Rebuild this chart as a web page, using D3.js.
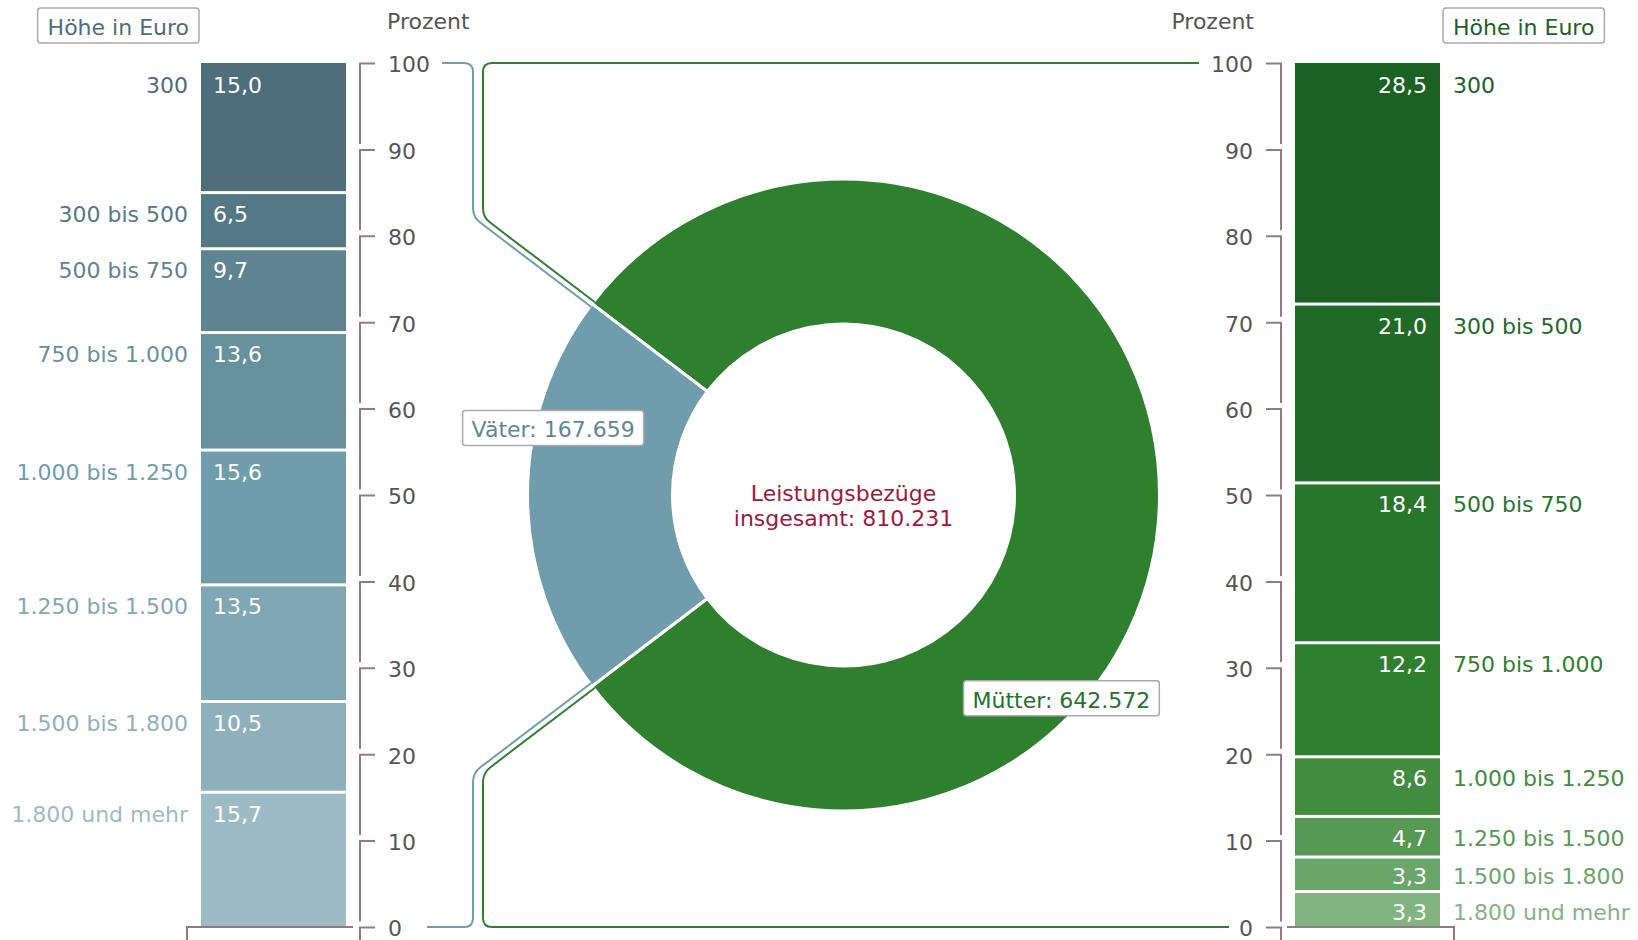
<!DOCTYPE html>
<html lang="de">
<head>
<meta charset="utf-8">
<title>Elterngeld nach Höhe</title>
<script src="https://d3js.org/d3.v7.min.js"></script>
<style type="text/css">
body { margin: 0; background: #fff; }
svg  { font-family: "DejaVu Sans", Verdana, sans-serif; font-size: 22px; }
</style>
</head>
<body>
<script type="text/javascript">

// categories (Höhe in Euro) and shares in percent
var categories = ["300", "300 bis 500", "500 bis 750", "750 bis 1.000",
                  "1.000 bis 1.250", "1.250 bis 1.500", "1.500 bis 1.800", "1.800 und mehr"];
var vaeterShares  = [15.0, 6.5, 9.7, 13.6, 15.6, 13.5, 10.5, 15.7];
var muetterShares = [28.5, 21.0, 18.4, 12.2, 8.6, 4.7, 3.3, 3.3];
// the reference draws the Mütter bar with heights that differ a bit from its printed values
var muetterBarHeights = [27.9, 20.7, 18.5, 13.2, 6.9, 4.7, 4.0, 4.1];

// recipients
var recipients      = ["Mütter", "Väter"];
var recipientCounts = [642572, 167659];

var percentTicks = [0, 10, 20, 30, 40, 50, 60, 70, 80, 90, 100];

// colours
var blues  = ["#4d6e7a", "#537986", "#5e8491", "#68919e", "#6f9dac", "#7fa7b4", "#8eb0bc", "#9dbbc5"];
var greens = ["#1c6124", "#1f6a27", "#26762c", "#2e802e", "#428c40", "#569954", "#6aa66a", "#82b482"];
var axisColor = "#967a7f";
var textGrey = "#555";

var de = d3.formatLocale({decimal: ",", thousands: ".", grouping: [3], currency: ["", " €"]});
var fmtShare = de.format(".1f");
var fmtCount = de.format(",");

var svg = d3.select("body").append("svg")
    .attr("width", 1638)
    .attr("height", 940);

var y = d3.scaleLinear().domain([0, 100]).range([927, 63]);

// ---------- stacked bars ----------
function stack(values, heights) {
  var top = 100;
  return values.map(function(v, i) {
    var s = {i: i, value: v, top: top, bottom: top - heights[i], name: categories[i]};
    top -= heights[i];
    return s;
  });
}

function drawBar(values, heights, colors, barX, side) {
  var segs = stack(values, heights);
  var n = segs.length;
  var g = svg.append("g");

  g.selectAll("rect")
    .data(segs)
    .enter()
    .append("rect")
    .attr("x", barX)
    .attr("width", 145)
    .attr("y", function(d) { return y(d.top) + (d.i > 0 ? 1.5 : 0); })
    .attr("height", function(d) {
      return y(d.bottom) - y(d.top) - (d.i > 0 ? 1.5 : 0) - (d.i < n - 1 ? 1.5 : 0);
    })
    .attr("fill", function(d) { return colors[d.i]; });

  function labelY(d) { return Math.min(y(d.top) + 29.5, y(d.bottom) - 7.5); }

  // value inside the bar
  g.selectAll(".val")
    .data(segs)
    .enter()
    .append("text")
    .attr("class", "val")
    .attr("x", side === "left" ? barX + 12 : barX + 132)
    .attr("y", labelY)
    .attr("text-anchor", side === "left" ? "start" : "end")
    .attr("fill", "#fff")
    .text(function(d) { return fmtShare(d.value); });

  // category name beside the bar
  g.selectAll(".cat")
    .data(segs)
    .enter()
    .append("text")
    .attr("class", "cat")
    .attr("x", side === "left" ? barX - 13 : barX + 158)
    .attr("y", labelY)
    .attr("text-anchor", side === "left" ? "end" : "start")
    .attr("fill", function(d) { return colors[d.i]; })
    .text(function(d) { return d.name; });
}

drawBar(vaeterShares, vaeterShares, blues, 201, "left");
drawBar(muetterShares, muetterBarHeights, greens, 1295, "right");

// ---------- bracket axes ----------
function drawAxis(axisX, orient) {
  var dir = orient === "right" ? 1 : -1;
  var axis = (orient === "right" ? d3.axisRight(y) : d3.axisLeft(y))
      .tickValues(percentTicks)
      .tickSize(15)
      .tickPadding(13)
      .tickFormat(d3.format("d"));
  var g = svg.append("g")
      .attr("transform", "translate(" + axisX + ",0)")
      .call(axis);
  g.attr("font-size", 22).attr("font-family", null);
  g.select(".domain").remove();
  g.selectAll(".tick line").remove();
  g.selectAll(".tick text").attr("fill", textGrey).attr("dy", "0.4em");
  g.selectAll(".tick").append("path")
    .attr("fill", "none")
    .attr("stroke", axisColor)
    .attr("stroke-width", 2)
    .attr("d", function(v) {
      var len = v > 0 ? y(v - 10) - y(v) - 6 : 20;
      return "M" + (dir * 15) + ",0H0V" + len;
    });
  return g;
}
drawAxis(360, "right");
drawAxis(1281, "left");

// category brackets under the bars
svg.append("path")
  .attr("fill", "none").attr("stroke", axisColor).attr("stroke-width", 2)
  .attr("d", "M187,945V" + y(0) + "H353");
svg.append("path")
  .attr("fill", "none").attr("stroke", axisColor).attr("stroke-width", 2)
  .attr("d", "M1287," + y(0) + "H1454V945");

// axis titles
svg.append("text").attr("x", 387).attr("y", 29).attr("fill", textGrey).text("Prozent");
svg.append("text").attr("x", 1254).attr("y", 29).attr("fill", textGrey)
  .attr("text-anchor", "end").text("Prozent");

// "Höhe in Euro" boxes
function boxLabel(x, yTop, anchor, txt, color) {
  var g = svg.append("g");
  var rect = g.append("rect");
  var t = g.append("text").attr("fill", color).text(txt);
  var w = t.node().getComputedTextLength() + 20;
  var x0 = anchor === "end" ? x - w : x;
  rect.attr("x", x0).attr("y", yTop).attr("width", w).attr("height", 35)
    .attr("rx", 3).attr("fill", "#fff").attr("stroke", "#aaa").attr("stroke-width", 1.5);
  t.attr("x", x0 + 10).attr("y", yTop + 27);
}
boxLabel(199, 8, "end", "Höhe in Euro", blues[0]);
boxLabel(1443, 8, "start", "Höhe in Euro", greens[0]);

// ---------- donut ----------
var total = d3.sum(recipientCounts);
var vShare = recipientCounts[1] / total;
var cx = 843.5, cy = y(50);
var rOuter = 316, rInner = 171, rEdge = 314.5;
var startA = -Math.PI / 2 + vShare * Math.PI;

var pie = d3.pie().sort(null).value(function(d) { return d; })
    .startAngle(startA).endAngle(startA + 2 * Math.PI);
var arc = d3.arc().innerRadius(rInner).outerRadius(rOuter);
var donutColors = ["#2e802e", "#6f9dac"];

var donut = svg.append("g").attr("transform", "translate(" + cx + "," + cy + ")");
donut.selectAll("path")
  .data(pie(recipientCounts))
  .enter()
  .append("path")
  .attr("d", arc)
  .attr("fill", function(d, i) { return donutColors[i]; })
  .attr("stroke", "#fff")
  .attr("stroke-width", 3);

// connectors from slice borders to the axes
function roundedPath(pts, r) {
  var p = "M" + pts[0][0] + "," + pts[0][1];
  for (var i = 1; i < pts.length - 1; i++) {
    var a = pts[i - 1], b = pts[i], c = pts[i + 1];
    var l1 = Math.hypot(b[0] - a[0], b[1] - a[1]);
    var l2 = Math.hypot(c[0] - b[0], c[1] - b[1]);
    var p1 = [b[0] - (b[0] - a[0]) / l1 * r, b[1] - (b[1] - a[1]) / l1 * r];
    var p2 = [b[0] + (c[0] - b[0]) / l2 * r, b[1] + (c[1] - b[1]) / l2 * r];
    p += "L" + p1[0] + "," + p1[1] + "Q" + b[0] + "," + b[1] + " " + p2[0] + "," + p2[1];
  }
  var e = pts[pts.length - 1];
  return p + "L" + e[0] + "," + e[1];
}

function connector(angle, offset, xBend, yAxis, xEnd, color) {
  var u = [Math.sin(angle), -Math.cos(angle)];
  var d = [-Math.cos(angle), -Math.sin(angle)];
  var s = [cx + rEdge * u[0] + offset * d[0], cy + rEdge * u[1] + offset * d[1]];
  var t = (xBend - s[0]) / u[0];
  var bendY = s[1] + t * u[1];
  svg.append("path")
    .attr("fill", "none")
    .attr("stroke", color)
    .attr("stroke-width", 2)
    .attr("d", roundedPath([[xEnd, yAxis], [xBend, yAxis], [xBend, bendY], s], 9));
}
var aUp = -Math.PI / 2 + vShare * Math.PI;
var aDown = -Math.PI / 2 - vShare * Math.PI;
connector(aUp, 3, 473, y(100), 442, donutColors[1]);
connector(aDown, -3, 473, y(0), 427, donutColors[1]);
connector(aUp, -3, 483, y(100), 1199, donutColors[0]);
connector(aDown, 3, 483, y(0), 1229, donutColors[0]);

// centre text
svg.append("text").attr("x", cx).attr("y", 501).attr("text-anchor", "middle")
  .attr("fill", "#a0183c").text("Leistungsbezüge");
svg.append("text").attr("x", cx).attr("y", 526).attr("text-anchor", "middle")
  .attr("fill", "#a0183c").text("insgesamt: " + fmtCount(total));

// slice labels
var sliceLabelAngle = [133, -77];
var sliceLabelColor = ["#23732a", "#5e8896"];
recipients.forEach(function(name, i) {
  var a = sliceLabelAngle[i] * Math.PI / 180;
  var px = cx + 298 * Math.sin(a), py = cy - 298 * Math.cos(a);
  var g = svg.append("g");
  var rect = g.append("rect");
  var t = g.append("text").attr("fill", sliceLabelColor[i])
    .text(name + ": " + fmtCount(recipientCounts[i]));
  var w = t.node().getComputedTextLength() + 18;
  rect.attr("x", px - w / 2).attr("y", py - 17.5).attr("width", w).attr("height", 35)
    .attr("rx", 3).attr("fill", "#fff").attr("stroke", "#aaa").attr("stroke-width", 1.5);
  t.attr("x", px - w / 2 + 9).attr("y", py + 9.5);
});

</script>
</body>
</html>
